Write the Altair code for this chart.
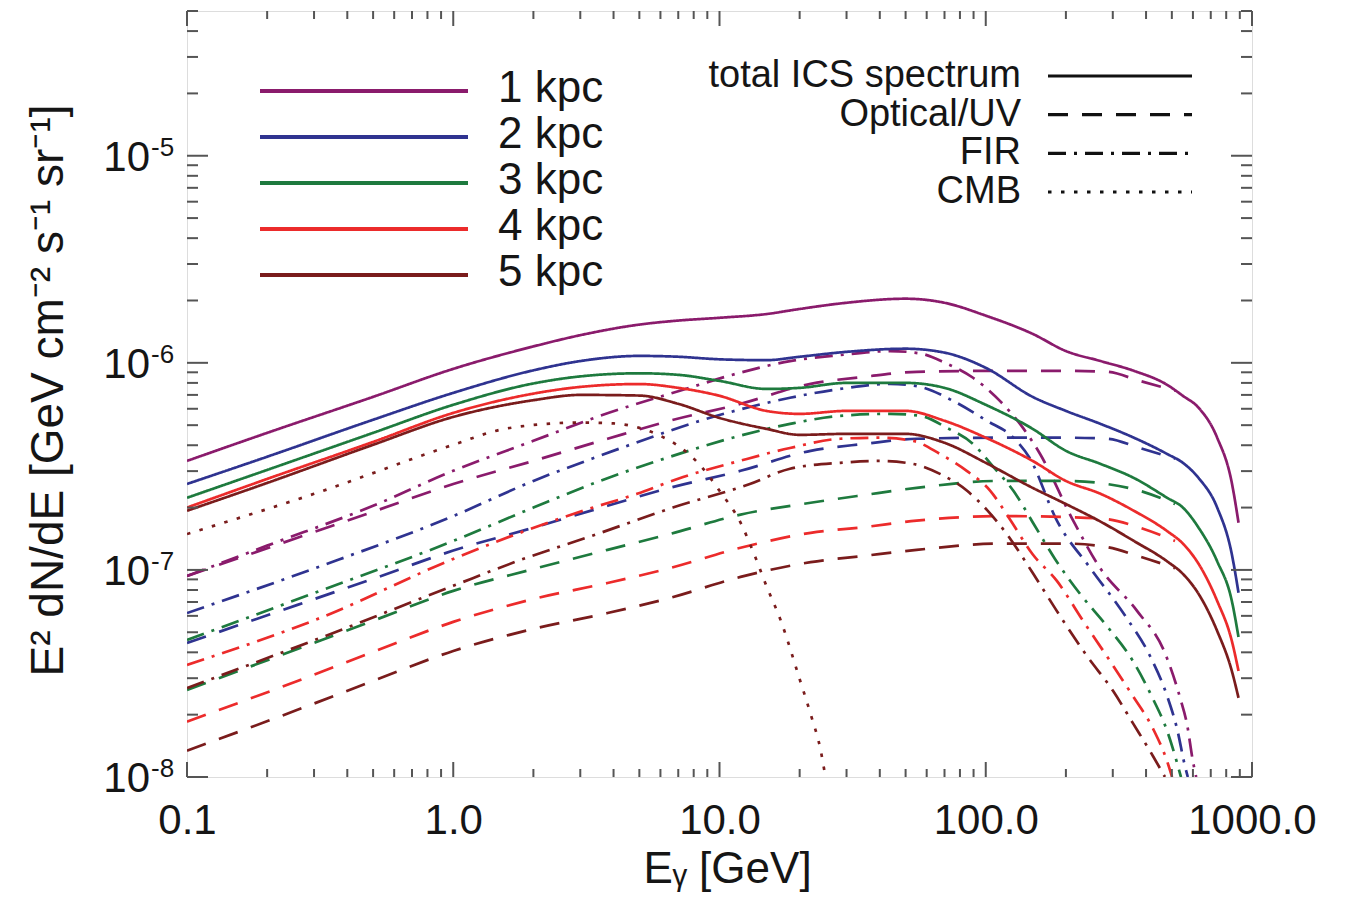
import altair as alt
import pandas as pd

# ---------------- values ----------------
DISTANCES = ["1 kpc", "2 kpc", "3 kpc", "4 kpc", "5 kpc"]
COLORS = ["#8a1b6c", "#2f3390", "#1e7a3e", "#ec2b2b", "#7a1c1c"]
COMPONENTS = ["total ICS spectrum", "Optical/UV", "FIR", "CMB"]
DASHES = [[1, 0], [20, 14], [18, 8, 3, 8], [3.5, 9.5]]

# total ICS spectrum (solid)
E_TOTAL = [0.1, 0.2, 0.5, 1, 2, 3, 5, 7, 10, 15, 20, 30, 50, 70, 100, 150, 200,
           270, 360, 480, 550, 630, 740, 840, 890]
TOTAL_1 = [3.36e-7, 4.59e-7, 6.85e-7, 9.35e-7, 1.20e-6, 1.36e-6, 1.53e-6, 1.60e-6,
           1.65e-6, 1.72e-6, 1.82e-6, 1.95e-6, 2.04e-6, 1.95e-6, 1.69e-6, 1.38e-6,
           1.14e-6, 1.02e-6, 9.15e-7, 7.83e-7, 6.93e-7, 6.07e-7, 4.35e-7, 2.63e-7, 1.69e-7]
TOTAL_2 = [2.60e-7, 3.52e-7, 5.31e-7, 7.16e-7, 9.20e-7, 1.02e-6, 1.08e-6, 1.07e-6,
           1.04e-6, 1.03e-6, 1.07e-6, 1.13e-6, 1.17e-6, 1.12e-6, 9.46e-7, 6.85e-7,
           5.86e-7, 5.07e-7, 4.35e-7, 3.63e-7, 3.29e-7, 2.78e-7, 2.00e-7, 1.19e-7, 7.75e-8]
TOTAL_3 = [2.23e-7, 3.04e-7, 4.59e-7, 6.27e-7, 7.95e-7, 8.60e-7, 8.90e-7, 8.75e-7,
           8.18e-7, 7.48e-7, 7.57e-7, 8.00e-7, 8.00e-7, 7.57e-7, 6.27e-7, 4.80e-7,
           3.76e-7, 3.25e-7, 2.78e-7, 2.23e-7, 2.00e-7, 1.60e-7, 1.10e-7, 7.08e-8, 4.74e-8]
TOTAL_4 = [2.00e-7, 2.75e-7, 4.15e-7, 5.73e-7, 7.10e-7, 7.65e-7, 7.90e-7, 7.57e-7,
           6.93e-7, 5.86e-7, 5.67e-7, 5.86e-7, 5.86e-7, 5.25e-7, 4.35e-7, 3.36e-7,
           2.69e-7, 2.33e-7, 1.93e-7, 1.54e-7, 1.34e-7, 1.07e-7, 7.08e-8, 4.54e-8, 3.25e-8]
TOTAL_5 = [1.93e-7, 2.63e-7, 4.02e-7, 5.48e-7, 6.60e-7, 7.00e-7, 6.95e-7, 6.34e-7,
           5.42e-7, 4.80e-7, 4.49e-7, 4.54e-7, 4.54e-7, 4.11e-7, 3.29e-7, 2.49e-7,
           2.08e-7, 1.71e-7, 1.38e-7, 1.10e-7, 9.57e-8, 7.66e-8, 5.07e-8, 3.25e-8, 2.41e-8]

# Optical/UV (dashed)
E_OPT = [0.1, 0.26, 0.5, 1, 2, 3.8, 6.5, 12, 22, 35, 55, 113, 200, 285, 379, 514]
OPT_1 = [9.35e-8, 1.43e-7, 1.91e-7, 2.60e-7, 3.36e-7, 4.30e-7, 5.25e-7, 6.34e-7,
         7.92e-7, 8.56e-7, 9.05e-7, 9.15e-7, 9.15e-7, 9.05e-7, 8.18e-7, 7.33e-7]
OPT_2 = [4.44e-8, 6.78e-8, 9.06e-8, 1.24e-7, 1.60e-7, 2.04e-7, 2.49e-7, 3.01e-7,
         3.76e-7, 4.06e-7, 4.30e-7, 4.35e-7, 4.35e-7, 4.30e-7, 3.88e-7, 3.44e-7]
OPT_3 = [2.63e-8, 4.15e-8, 5.68e-8, 7.92e-8, 1.01e-7, 1.25e-7, 1.49e-7, 1.85e-7,
         2.11e-7, 2.30e-7, 2.49e-7, 2.69e-7, 2.69e-7, 2.60e-7, 2.41e-7, 2.08e-7]
OPT_4 = [1.85e-8, 2.91e-8, 4.02e-8, 5.61e-8, 7.24e-8, 8.65e-8, 1.02e-7, 1.28e-7,
         1.51e-7, 1.61e-7, 1.73e-7, 1.82e-7, 1.80e-7, 1.76e-7, 1.60e-7, 1.38e-7]
OPT_5 = [1.34e-8, 2.11e-8, 2.91e-8, 4.06e-8, 5.19e-8, 6.19e-8, 7.32e-8, 9.25e-8,
         1.09e-7, 1.17e-7, 1.25e-7, 1.34e-7, 1.34e-7, 1.29e-7, 1.16e-7, 1.02e-7]

# FIR (dash-dot)
E_FIR_1 = [0.1, 0.2, 0.5, 1, 2, 3.56, 7.1, 11.9, 18.4, 28.4, 43.7, 56.6, 70.3, 89.6,
           113, 138, 160, 213, 269, 370, 471, 537, 570, 600, 617]
FIR_1 = [9.35e-8, 1.31e-7, 2.04e-7, 3.01e-7, 4.20e-7, 5.55e-7, 7.33e-7, 8.95e-7,
         1.02e-6, 1.09e-6, 1.14e-6, 1.11e-6, 1.00e-6, 8.47e-7, 6.55e-7, 4.85e-7,
         3.63e-7, 1.73e-7, 1.02e-7, 6.34e-8, 3.97e-8, 2.41e-8, 1.80e-8, 1.19e-8, 1.00e-8]
E_FIR_2 = [0.1, 0.316, 1, 2, 3.56, 5.48, 8.45, 13, 18.4, 28.4, 43.7, 56.6, 75.4, 101,
           127, 146, 185, 247, 334, 414, 480, 523, 560, 574]
FIR_2 = [6.19e-8, 1.04e-7, 1.82e-7, 2.69e-7, 3.56e-7, 4.35e-7, 5.25e-7, 6.12e-7,
         6.78e-7, 7.48e-7, 7.92e-7, 7.66e-7, 6.55e-7, 5.25e-7, 4.35e-7, 3.48e-7,
         1.73e-7, 1.02e-7, 6.00e-8, 3.84e-8, 2.46e-8, 1.71e-8, 1.13e-8, 1.00e-8]
E_FIR_3 = [0.1, 0.316, 1, 2, 3.56, 6.35, 11.9, 18.4, 28.4, 43.7, 56.6, 71.5, 89.6,
           106, 127, 153, 182, 226, 285, 357, 425, 480, 523, 541]
FIR_3 = [4.59e-8, 7.92e-8, 1.38e-7, 2.00e-7, 2.69e-7, 3.48e-7, 4.44e-7, 5.07e-7,
         5.55e-7, 5.67e-7, 5.55e-7, 4.85e-7, 4.06e-7, 3.18e-7, 2.41e-7, 1.63e-7,
         1.13e-7, 7.66e-8, 5.36e-8, 3.63e-8, 2.38e-8, 1.67e-8, 1.17e-8, 1.00e-8]
E_FIR_4 = [0.1, 0.316, 1, 1.73, 3.07, 4.9, 7.3, 11.9, 18.4, 28.4, 40.1, 53.3, 67.3,
           85.1, 104, 123, 150, 185, 232, 293, 357, 425, 480, 501]
FIR_4 = [3.48e-8, 5.86e-8, 1.13e-7, 1.49e-7, 1.93e-7, 2.33e-7, 2.81e-7, 3.36e-7,
         3.88e-7, 4.30e-7, 4.35e-7, 4.20e-7, 3.63e-7, 3.00e-7, 2.41e-7, 1.76e-7,
         1.19e-7, 8.85e-8, 5.68e-8, 3.63e-8, 2.46e-8, 1.71e-8, 1.19e-8, 1.00e-8]
E_FIR_5 = [0.1, 0.316, 1, 1.73, 3.47, 6.68, 13, 18.4, 28.4, 40.1, 53.3, 67.3, 85.1,
           101, 120, 150, 190, 240, 301, 357, 425, 471]
FIR_5 = [2.69e-8, 4.69e-8, 8.38e-8, 1.10e-7, 1.49e-7, 2.00e-7, 2.60e-7, 3.08e-7,
         3.29e-7, 3.36e-7, 3.25e-7, 2.91e-7, 2.41e-7, 1.95e-7, 1.49e-7, 9.68e-8,
         6.00e-8, 3.84e-8, 2.60e-8, 1.82e-8, 1.26e-8, 1.00e-8]

# CMB (dotted, drawn once)
E_CMB = [0.1, 0.3, 1, 1.5, 2, 3, 4, 5, 6, 7, 8.5, 10, 12, 13.5, 15, 17, 20, 22, 24, 25]
CMB = [1.49e-7, 2.33e-7, 4.02e-7, 4.75e-7, 5.01e-7, 5.15e-7, 5.10e-7, 4.85e-7,
       4.44e-7, 3.97e-7, 3.18e-7, 2.41e-7, 1.69e-7, 1.19e-7, 8.38e-8, 5.68e-8,
       2.97e-8, 2.01e-8, 1.34e-8, 1.00e-8]

X_LABELS = [0.1, 1, 10, 100, 1000]
Y_LABELS = [1e-8, 1e-7, 1e-6, 1e-5]
Y_EXPONENTS = ["-8", "-7", "-6", "-5"]

# ---------------- tables ----------------
rows = []
def add(es, vs, dist, comp):
    for e, v in zip(es, vs):
        rows.append({"E": e, "V": v, "dist": dist, "comp": comp,
                     "series": dist + " / " + comp})

for d, tot, opt, efir, fir in zip(
        DISTANCES,
        [TOTAL_1, TOTAL_2, TOTAL_3, TOTAL_4, TOTAL_5],
        [OPT_1, OPT_2, OPT_3, OPT_4, OPT_5],
        [E_FIR_1, E_FIR_2, E_FIR_3, E_FIR_4, E_FIR_5],
        [FIR_1, FIR_2, FIR_3, FIR_4, FIR_5]):
    add(E_TOTAL, tot, d, COMPONENTS[0])
    add(E_OPT, opt, d, COMPONENTS[1])
    add(efir, fir, d, COMPONENTS[2])
add(E_CMB, CMB, DISTANCES[4], COMPONENTS[3])
df = pd.DataFrame(rows)

x_major = pd.DataFrame({"E": X_LABELS})
x_minor = pd.DataFrame({"E": [k * 10.0 ** p for p in (-1, 0, 1, 2) for k in range(2, 10)]})
y_major = pd.DataFrame({"V": Y_LABELS, "exp": Y_EXPONENTS, "base": ["10"] * 4})
y_minor = pd.DataFrame({"V": [k * 10.0 ** p for p in (-8, -7, -6, -5) for k in range(2, 10)
                              if k * 10.0 ** p <= 5e-5]})
leg_dist = pd.DataFrame({"dist": DISTANCES})
leg_comp = pd.DataFrame({"comp": COMPONENTS})

# ---------------- chart ----------------
W, H = 1065, 766
FONT = "Liberation Sans"
INK = "#151515"
FRAME = "#555555"

xs = alt.Scale(type="log", domain=[0.1, 1000], nice=False)
ys = alt.Scale(type="log", domain=[1e-8, 5e-5], nice=False)
cs = alt.Scale(domain=DISTANCES, range=COLORS)
ds = alt.Scale(domain=COMPONENTS, range=DASHES)

x_axis = alt.Axis(values=X_LABELS, format=".1f", labelFontSize=42, labelFont=FONT,
                  labelColor=INK, ticks=False, domain=False, grid=False,
                  labelPadding=23, labelFlush=False, labelOverlap=False,
                  title="Eᵧ [GeV]", titleFont=FONT, titleFontSize=44,
                  titleFontWeight="normal", titleColor=INK,
                  titleX=540, titleY=92, titleBaseline="middle")
y_axis = alt.Axis(labels=False, ticks=False, domain=False, grid=False,
                  title="E² dN/dE  [GeV cm⁻² s⁻¹ sr⁻¹]", titleFont=FONT,
                  titleFontSize=46, titleFontWeight="normal", titleColor=INK,
                  titleAngle=270, titleX=-139, titleY=379,
                  titleBaseline="middle", titleAlign="center")

lines = alt.Chart(df).mark_line(strokeWidth=2.7, clip=True, interpolate="monotone").encode(
    x=alt.X("E:Q", scale=xs, axis=x_axis),
    y=alt.Y("V:Q", scale=ys, axis=y_axis),
    color=alt.Color("dist:N", scale=cs, legend=None),
    strokeDash=alt.StrokeDash("comp:N", scale=ds, legend=None),
    detail="series:N",
)

def xticks(data, length):
    bottom = alt.Chart(data).mark_rule(color=FRAME, strokeWidth=2).encode(
        x=alt.X("E:Q", scale=xs), y=alt.value(H), y2=alt.value(H - length))
    top = alt.Chart(data).mark_rule(color=FRAME, strokeWidth=2).encode(
        x=alt.X("E:Q", scale=xs), y=alt.value(0), y2=alt.value(length))
    return [bottom, top]

def yticks(data, length):
    left = alt.Chart(data).mark_rule(color=FRAME, strokeWidth=2).encode(
        y=alt.Y("V:Q", scale=ys), x=alt.value(0), x2=alt.value(length))
    right = alt.Chart(data).mark_rule(color=FRAME, strokeWidth=2).encode(
        y=alt.Y("V:Q", scale=ys), x=alt.value(W), x2=alt.value(W - length))
    return [left, right]

ylab_base = alt.Chart(y_major).mark_text(align="right", baseline="middle", fontSize=42,
                                         font=FONT, color=INK, dy=2).encode(
    y=alt.Y("V:Q", scale=ys), x=alt.value(-37), text="base:N")
ylab_exp = alt.Chart(y_major).mark_text(align="left", baseline="middle", fontSize=26,
                                        font=FONT, color=INK, dy=-8).encode(
    y=alt.Y("V:Q", scale=ys), x=alt.value(-36), text="exp:N")

main = alt.layer(
    lines,
    *xticks(x_major, 15), *xticks(x_minor, 8),
    *yticks(y_major, 21), *yticks(y_minor, 11),
    ylab_base, ylab_exp,
)

dist_y = alt.Y("dist:N", scale=alt.Scale(type="point", domain=DISTANCES,
                                         range=[80, 264], padding=0), axis=None)
leg1 = alt.layer(
    alt.Chart(leg_dist).mark_rule(strokeWidth=4).encode(
        y=dist_y, x=alt.value(73), x2=alt.value(281),
        color=alt.Color("dist:N", scale=cs, legend=None)),
    alt.Chart(leg_dist).mark_text(align="left", baseline="middle", fontSize=44,
                                  font=FONT, color=INK, dy=-2).encode(
        y=dist_y, x=alt.value(311), text="dist:N"),
)

comp_y = alt.Y("comp:N", scale=alt.Scale(type="point", domain=COMPONENTS,
                                         range=[65, 181], padding=0), axis=None)
leg2 = alt.layer(
    alt.Chart(leg_comp).mark_rule(strokeWidth=3.2, color="#111111").encode(
        y=comp_y, x=alt.value(861), x2=alt.value(1005),
        strokeDash=alt.StrokeDash("comp:N", scale=ds, legend=None)),
    alt.Chart(leg_comp).mark_text(align="right", baseline="middle", fontSize=38,
                                  font=FONT, color=INK).encode(
        y=comp_y, x=alt.value(834), text="comp:N"),
)

chart = alt.layer(main, leg1, leg2).resolve_scale(y="independent").properties(
    width=W, height=H,
    padding={"left": 187, "top": 11, "right": 93, "bottom": 123},
    autosize=alt.AutoSizeParams(type="none"),
    background="white",
).configure_view(stroke=FRAME, strokeWidth=2.5).configure(font=FONT)

chart.save("out.html", embed_options={"renderer": "svg", "actions": False})
